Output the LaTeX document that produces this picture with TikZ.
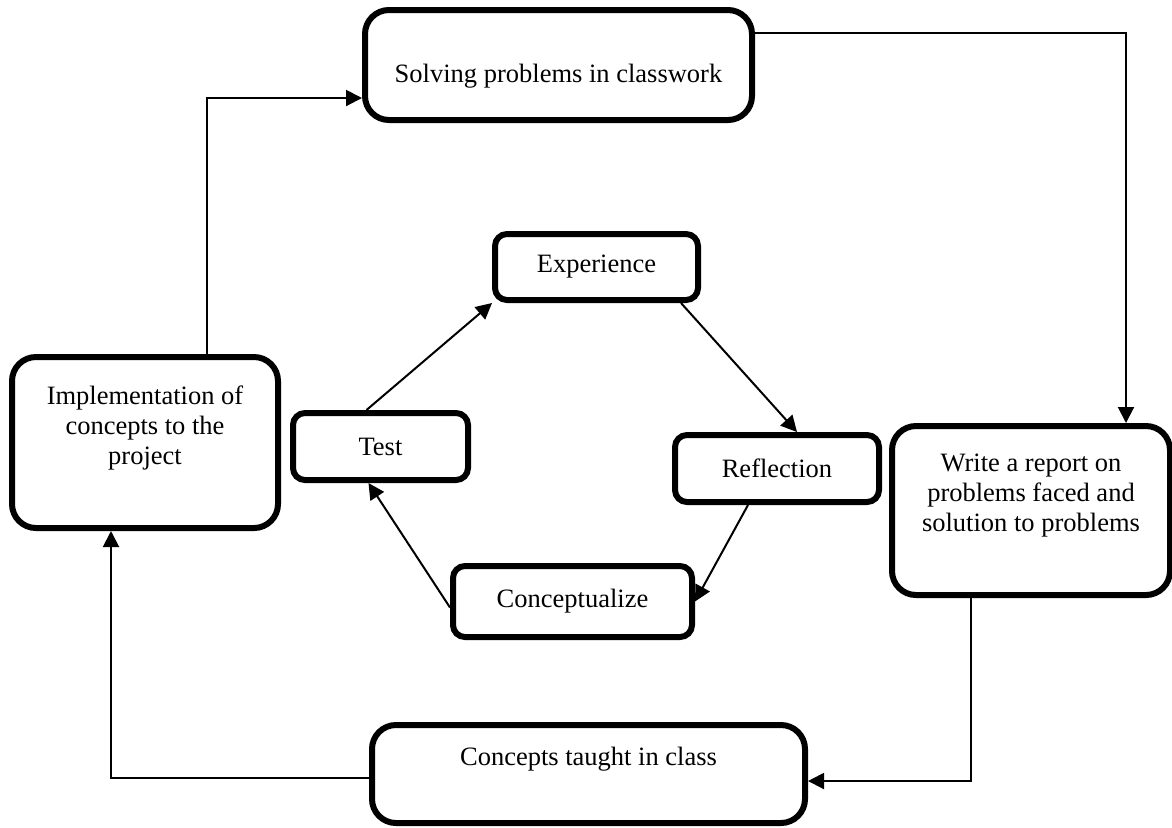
\documentclass[tikz,border=0pt]{standalone}
\usepackage{fontspec}
\setmainfont{Liberation Serif}
\usetikzlibrary{arrows.meta,positioning,calc}

\tikzset{
  box/.style={draw, line width=3pt, rounded corners=12pt},
  smallbox/.style={box, rounded corners=6pt, font=\fontsize{13.25}{15}\selectfont},
  txt/.style={font=\fontsize{13.25}{15}\selectfont, align=center, inner sep=0pt},
  arr/.style={-{Triangle[length=8pt,width=8pt]}, line width=1pt},
}

\begin{document}
\begin{tikzpicture}[x=0.5pt,y=-0.5pt]
    \useasboundingbox (0,0) rectangle (1172,827);

    % Outer loop
    \node[box, minimum width=193.5pt, minimum height=55pt] (solve) at (558.5,65) {};
    \node[txt] (solve-t) at (558.5,76) {Solving problems in classwork};

    \node[box, minimum width=139pt, minimum height=84.5pt] (write) at (1031,510.5) {};
    \node[txt] (write-t) at (1031,496) {Write a report on\\problems faced and\\solution to problems};

    \node[box, minimum width=216.5pt, minimum height=49pt] (taught) at (588.5,774) {};
    \node[txt] (taught-t) at (588.5,759) {Concepts taught in class};

    \node[box, minimum width=133pt, minimum height=85.5pt] (impl) at (145,442.5) {};
    \node[txt] (impl-t) at (145,428) {Implementation of\\concepts to the\\project};

    % Inner cycle
    \node[smallbox, minimum width=101.5pt, minimum height=33pt] (exper) at (596.5,267) {Experience};
    \node[smallbox, minimum width=102pt, minimum height=33.5pt] (refl) at (777,468.5) {Reflection};
    \node[smallbox, minimum width=119.5pt, minimum height=35.5pt] (concz) at (572.5,601.5) {Conceptualize};
    \node[smallbox, minimum width=87.5pt, minimum height=33.5pt] (test) at (380.5,446.5) {Test};

    % Outer arrows
    \draw[arr] ([xshift=31pt]impl.north) |- ([yshift=-16.5pt]solve.west);
    \draw[arr] ([yshift=16pt]solve.east) -| ([xshift=47.5pt]write.north);
    \draw[arr] ([xshift=-30pt]write.south) |- ([yshift=-3.5pt]taught.east);
    \draw[arr] ([yshift=-2pt]taught.west) -| ([xshift=-17pt]impl.south);

    % Inner arrows
    \draw[arr] ([xshift=-7pt]test.north) -- (exper.south west);
    \draw[arr] ([xshift=-10pt]exper.south east) -- ([xshift=10pt]refl.north);
    \draw[arr] ([xshift=-14.5pt]refl.south) -- (concz.east);
    \draw[arr] ([yshift=-3pt]concz.west) -- ([xshift=-6pt]test.south);
\end{tikzpicture}
\end{document}
